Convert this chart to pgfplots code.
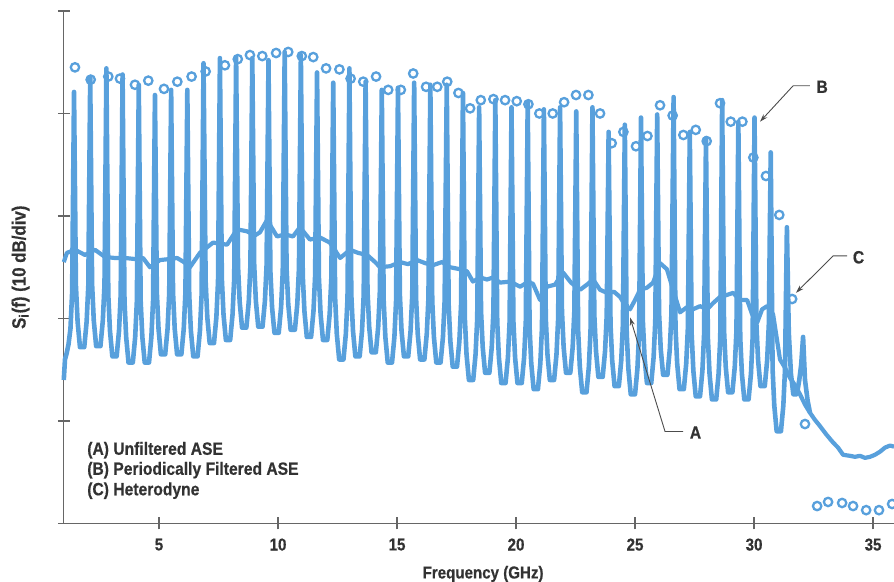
\documentclass[border=0pt]{standalone}
\usepackage{fontspec}
\setmainfont{Liberation Sans}[FakeStretch=0.88, BoldFeatures={FakeBold=0.5}]
\usepackage{pgfplots}
\pgfplotsset{compat=1.18}
\usetikzlibrary{arrows.meta}
\definecolor{hpblue}{RGB}{88,160,220}
\definecolor{txt}{RGB}{50,50,50}
\newcommand{\lf}{\fontsize{8.6}{10}\selectfont\bfseries}
\newcommand{\gf}{\fontsize{8.9}{10}\selectfont\bfseries}
\begin{document}
\begin{tikzpicture}
\begin{axis}[
  scale only axis, width=415.5pt, height=256.5pt,
  xmin=1, xmax=35.88, ymin=0, ymax=50,
  axis x line*=bottom, axis y line*=left,
  axis line style={draw=black!60, line width=0.6pt},
  xtick={5,10,...,35}, ytick={0,10,...,50}, yticklabels={},
  tick align=center, major tick length=6pt,
  tick style={draw=black!60, line width=0.6pt},
  /pgf/number format/assume math mode=true,
  tick label style={font=\lf, text=txt},
  xticklabel style={yshift=-1pt},
  xlabel={Frequency (GHz)},
  ylabel={S\textsubscript{i}(f) (10 dB/div)},
  label style={font=\lf, text=txt},
  xlabel style={at={(axis description cs:0.505,0)}, anchor=base, yshift=-27.5pt},
  ylabel style={at={(axis description cs:-0.052,0.5)}, anchor=center, font=\fontsize{9.6}{11}\selectfont\bfseries},
  clip=false,
]
% (A) Unfiltered ASE
\addplot[hpblue, line width=2.1pt, line join=round] coordinates {
(1.00,25.5)(1.13,26.4)(1.47,26.7)(1.89,26.2)(2.31,26.7)(2.73,26.0)(3.15,25.9)(3.57,25.9)(3.99,25.8)(4.33,25.9)
(4.62,25.0)(5.04,25.7)(5.46,25.8)(5.76,25.9)(6.05,25.5)(6.30,25.0)(6.72,26.4)(7.27,27.4)(7.86,27.2)(8.28,28.7)
(8.70,28.5)(9.03,28.1)(9.24,28.4)(9.54,29.6)(9.96,28.0)(10.29,28.2)(10.63,28.0)(10.92,28.9)(11.34,27.7)(11.76,27.9)
(12.18,27.4)(12.61,25.9)(13.03,26.7)(13.36,26.4)(13.74,26.2)(14.08,25.5)(14.29,25.0)(14.71,25.1)(15.13,25.5)(15.46,25.3)
(15.84,25.7)(16.18,25.4)(16.51,25.2)(16.89,25.5)(17.23,25.0)(17.65,24.8)(17.94,24.6)(18.19,23.6)(18.49,24.0)(18.78,23.8)
(19.03,24.0)(19.33,23.5)(19.75,23.6)(20.17,23.1)(20.46,23.5)(20.71,23.4)(21.01,21.8)(21.30,23.1)(21.64,23.3)(21.97,24.5)
(22.31,23.5)(22.69,22.8)(22.98,23.3)(23.24,23.8)(23.53,22.8)(23.82,22.5)(24.12,22.6)(24.37,22.1)(24.58,21.3)(24.79,20.9)
(25.00,21.8)(25.21,22.8)(25.50,23.0)(25.76,23.5)(26.05,25.4)(26.34,24.8)(26.60,22.8)(26.89,20.6)(27.18,21.1)(27.44,20.9)
(27.73,21.2)(28.03,20.9)(28.28,21.5)(28.57,22.1)(28.87,22.3)(29.12,22.5)(29.41,21.8)(29.71,21.8)(29.92,20.4)(30.13,19.6)
(30.34,20.9)(30.55,21.2)(30.80,20.4)(31.09,16.0)(31.30,15.2)(31.51,14.2)(31.72,13.5)(31.93,12.6)(32.14,11.6)(32.35,10.8)
(32.56,10.1)(32.77,9.5)(33.03,8.7)(33.32,7.9)(33.53,7.4)(33.74,6.7)(34.03,6.6)(34.24,6.5)(34.45,6.6)(34.66,6.4)
(34.87,6.5)(35.08,6.7)(35.29,7.0)(35.50,7.4)(35.71,7.6)(35.88,7.5)
};
% (B) Periodically filtered ASE
\addplot[hpblue, line width=2.3pt, line join=round] coordinates {
(1.00,14.0)(1.05,16.0)(1.12,16.6)(1.20,17.5)(1.28,19.0)(1.35,22.5)
(1.43,42.1)(1.51,23.2)(1.58,19.7)(1.68,17.2)(1.86,17.2)(1.96,19.7)(2.03,23.2)
(2.11,43.5)(2.19,23.3)(2.26,19.8)(2.36,17.3)(2.54,17.3)(2.64,19.8)(2.71,23.3)
(2.79,44.4)(2.87,22.3)(2.94,18.8)(3.04,16.3)(3.22,16.3)(3.32,18.8)(3.39,22.3)
(3.47,43.8)(3.55,21.7)(3.62,18.2)(3.72,15.7)(3.90,15.7)(4.00,18.2)(4.07,21.7)
(4.15,42.8)(4.23,21.7)(4.30,18.2)(4.40,15.7)(4.58,15.7)(4.68,18.2)(4.75,21.7)
(4.83,41.8)(4.91,22.5)(4.98,19.0)(5.08,16.5)(5.26,16.5)(5.36,19.0)(5.43,22.5)
(5.51,42.3)(5.59,22.5)(5.66,19.0)(5.76,16.5)(5.94,16.5)(6.04,19.0)(6.11,22.5)
(6.19,42.3)(6.27,22.3)(6.34,18.8)(6.44,16.3)(6.62,16.3)(6.72,18.8)(6.79,22.3)
(6.87,44.9)(6.96,23.6)(7.03,20.1)(7.13,17.6)(7.31,17.6)(7.41,20.1)(7.48,23.6)
(7.56,45.4)(7.64,23.9)(7.71,20.4)(7.81,17.9)(7.99,17.9)(8.09,20.4)(8.16,23.9)
(8.24,45.5)(8.32,25.1)(8.39,21.6)(8.49,19.1)(8.67,19.1)(8.77,21.6)(8.84,25.1)
(8.92,45.4)(9.00,25.2)(9.07,21.7)(9.17,19.2)(9.35,19.2)(9.45,21.7)(9.52,25.2)
(9.60,45.2)(9.68,24.6)(9.75,21.1)(9.85,18.6)(10.03,18.6)(10.13,21.1)(10.20,24.6)
(10.28,46.0)(10.36,24.9)(10.43,21.4)(10.53,18.9)(10.71,18.9)(10.81,21.4)(10.88,24.9)
(10.96,45.7)(11.04,24.2)(11.11,20.7)(11.21,18.2)(11.39,18.2)(11.49,20.7)(11.56,24.2)
(11.64,44.0)(11.72,23.9)(11.79,20.4)(11.89,17.9)(12.07,17.9)(12.17,20.4)(12.24,23.9)
(12.32,43.0)(12.40,22.0)(12.47,18.5)(12.57,16.0)(12.75,16.0)(12.85,18.5)(12.92,22.0)
(13.00,44.4)(13.08,22.3)(13.15,18.8)(13.25,16.3)(13.43,16.3)(13.53,18.8)(13.60,22.3)
(13.68,43.1)(13.76,22.7)(13.83,19.2)(13.93,16.7)(14.11,16.7)(14.21,19.2)(14.28,22.7)
(14.36,42.3)(14.44,21.7)(14.51,18.2)(14.61,15.7)(14.79,15.7)(14.89,18.2)(14.96,21.7)
(15.04,42.5)(15.12,22.3)(15.19,18.8)(15.29,16.3)(15.47,16.3)(15.57,18.8)(15.64,22.3)
(15.72,43.0)(15.80,22.0)(15.87,18.5)(15.97,16.0)(16.15,16.0)(16.25,18.5)(16.32,22.0)
(16.40,42.8)(16.48,21.7)(16.55,18.2)(16.65,15.7)(16.83,15.7)(16.93,18.2)(17.00,21.7)
(17.09,42.8)(17.17,21.3)(17.24,17.8)(17.34,15.3)(17.52,15.3)(17.62,17.8)(17.69,21.3)
(17.77,42.0)(17.85,20.0)(17.92,16.5)(18.02,14.0)(18.20,14.0)(18.30,16.5)(18.37,20.0)
(18.45,40.6)(18.53,20.7)(18.60,17.2)(18.70,14.7)(18.88,14.7)(18.98,17.2)(19.05,20.7)
(19.13,41.3)(19.21,19.7)(19.28,16.2)(19.38,13.7)(19.56,13.7)(19.66,16.2)(19.73,19.7)
(19.81,40.6)(19.89,19.7)(19.96,16.2)(20.06,13.7)(20.24,13.7)(20.34,16.2)(20.41,19.7)
(20.49,41.1)(20.57,19.1)(20.64,15.6)(20.74,13.1)(20.92,13.1)(21.02,15.6)(21.09,19.1)
(21.17,40.4)(21.25,20.0)(21.32,16.5)(21.42,14.0)(21.60,14.0)(21.70,16.5)(21.77,20.0)
(21.85,40.6)(21.93,20.7)(22.00,17.2)(22.10,14.7)(22.28,14.7)(22.38,17.2)(22.45,20.7)
(22.53,40.2)(22.61,18.8)(22.68,15.3)(22.78,12.8)(22.96,12.8)(23.06,15.3)(23.13,18.8)
(23.21,40.6)(23.29,20.3)(23.36,16.8)(23.46,14.3)(23.64,14.3)(23.74,16.8)(23.81,20.3)
(23.89,38.2)(23.97,19.4)(24.04,15.9)(24.14,13.4)(24.32,13.4)(24.42,15.9)(24.49,19.4)
(24.57,38.9)(24.65,18.6)(24.72,15.1)(24.82,12.6)(25.00,12.6)(25.10,15.1)(25.17,18.6)
(25.25,39.6)(25.33,19.7)(25.40,16.2)(25.50,13.7)(25.68,13.7)(25.78,16.2)(25.85,19.7)
(25.93,39.9)(26.01,20.5)(26.08,17.0)(26.18,14.5)(26.36,14.5)(26.46,17.0)(26.53,20.5)
(26.62,41.6)(26.70,19.1)(26.77,15.6)(26.87,13.1)(27.05,13.1)(27.15,15.6)(27.22,19.1)
(27.30,38.2)(27.38,18.4)(27.45,14.9)(27.55,12.4)(27.73,12.4)(27.83,14.9)(27.90,18.4)
(27.98,37.6)(28.06,18.1)(28.13,14.6)(28.23,12.1)(28.41,12.1)(28.51,14.6)(28.58,18.1)
(28.66,41.3)(28.74,18.8)(28.81,15.3)(28.91,12.8)(29.09,12.8)(29.19,15.3)(29.26,18.8)
(29.34,39.2)(29.42,18.1)(29.49,14.6)(29.59,12.1)(29.77,12.1)(29.87,14.6)(29.94,18.1)
(30.02,39.6)(30.10,19.4)(30.17,15.9)(30.27,13.4)(30.45,13.4)(30.55,15.9)(30.62,19.4)
(30.70,36.2)(30.78,15.0)(30.85,11.5)(30.95,9.0)(31.13,9.0)(31.23,11.5)(31.30,15.0)
(31.38,28.9)(31.46,18.6)(31.55,14.6)(31.65,12.6)(31.80,12.6)(31.90,14.0)(31.98,15.5)
(32.06,18.2)(32.14,14.0)(32.25,12.0)(32.35,10.8)
};
% (C) Heterodyne
\addplot[only marks, mark=o, mark size=2.1pt, hpblue, mark options={line width=1.15pt}] coordinates {
(1.47,44.5)(2.13,43.3)(2.87,43.6)(3.36,43.4)(3.99,42.8)(4.55,43.2)(5.21,42.4)(5.77,43.1)(6.37,43.6)(6.96,44.1)
(7.77,44.7)(8.31,45.3)(8.82,45.7)(9.34,45.6)(9.92,45.9)(10.43,46.0)(11.00,45.6)(11.48,45.5)(12.02,44.4)(12.58,44.3)
(13.05,43.4)(13.58,43.1)(14.12,43.6)(14.63,42.3)(15.16,42.3)(15.68,43.9)(16.22,42.6)(16.69,42.6)(17.11,43.1)(17.58,42.0)
(18.07,40.5)(18.52,41.3)(19.05,41.4)(19.54,41.3)(20.03,41.2)(20.52,40.9)(20.98,40.0)(21.54,40.0)(22.02,41.1)(22.52,41.8)
(23.04,41.8)(23.53,40.0)(24.02,37.1)(24.51,38.2)(25.04,36.8)(25.52,37.8)(26.05,40.8)(26.58,39.8)(27.03,37.9)(27.55,38.4)
(28.01,37.3)(28.57,41.0)(29.02,39.2)(29.51,39.2)(29.97,35.7)(30.50,33.9)(31.06,30.1)(31.60,21.9)(32.14,9.7)(32.65,1.7)
(33.11,2.1)(33.70,2.0)(34.16,1.7)(34.71,1.3)(35.25,1.3)(35.80,1.9)
};
% legend text
\node[anchor=base west, inner sep=0pt, font=\gf, text=txt] at (axis cs:1.97,6.7) {(A) Unfiltered ASE};
\node[anchor=base west, inner sep=0pt, font=\gf, text=txt] at (axis cs:1.97,4.75) {(B) Periodically Filtered ASE};
\node[anchor=base west, inner sep=0pt, font=\gf, text=txt] at (axis cs:1.97,2.75) {(C) Heterodyne};
% annotations
\draw[black!70, line width=0.45pt, -{Stealth[length=4pt,width=2.5pt]}] (axis cs:32.35,42.7) -- (axis cs:31.64,42.7) -- (axis cs:30.25,39.2);
\node[font=\gf, text=txt] at (axis cs:32.86,42.6) {B};
\draw[black!70, line width=0.45pt, -{Stealth[length=4pt,width=2.5pt]}] (axis cs:33.91,26.1) -- (axis cs:33.32,26.1) -- (axis cs:31.76,22.5);
\node[font=\gf, text=txt] at (axis cs:34.39,25.97) {C};
\draw[black!70, line width=0.45pt, -{Stealth[length=4pt,width=2.5pt]}] (axis cs:27.02,8.97) -- (axis cs:26.26,8.97) -- (axis cs:24.79,20.1);
\node[font=\gf, text=txt] at (axis cs:27.54,8.87) {A};
\coordinate (bbsw) at (axis cs:-1.68,-5.65);
\coordinate (bbne) at (axis cs:35.88,51.07);
\end{axis}
\pgfresetboundingbox
\path[use as bounding box] (bbsw) rectangle (bbne);
\end{tikzpicture}
\end{document}
